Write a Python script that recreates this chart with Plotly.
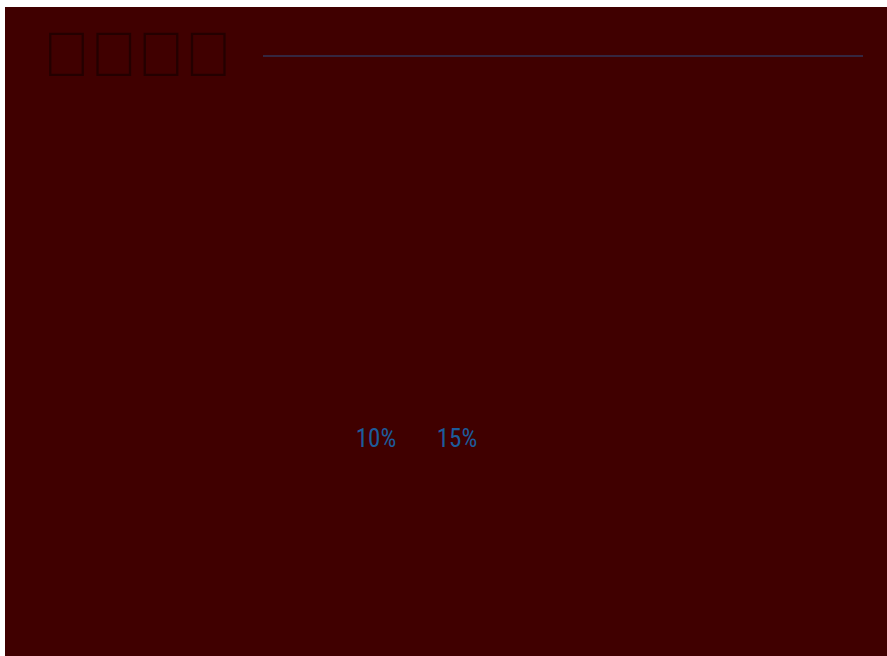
import plotly.graph_objects as go

# data
labels = ["10%", "15%"]
values = [10, 15]
levels = [0.3034, 0.3034]
title_text = "\uE000\uE001\uE002\uE003"

fig = go.Figure()
fig.add_trace(go.Scatter(
    x=values, y=levels, mode="text", text=labels,
    textfont=dict(family="Roboto Condensed", size=25, color="#1c5c9c"),
    hoverinfo="skip", showlegend=False,
))

fig.update_layout(
    width=882, height=649, autosize=False,
    paper_bgcolor="#400000",
    plot_bgcolor="#400000",
    title=dict(text=title_text, x=0.043, xanchor="left", y=0.927, yanchor="middle",
               font=dict(family="Liberation Sans", size=63, color="#240000")),
    margin=dict(l=258, r=24, t=49, b=48),
    xaxis=dict(range=[3.025, 40.06], visible=False),
    yaxis=dict(range=[0, 1], visible=False),
    shapes=[dict(type="line", xref="paper", yref="paper", x0=0, x1=1, y0=1, y1=1,
                 line=dict(color="#2a4f80", width=1))],
)

fig.write_html("out.html",
               post_script="document.body.style.margin='7px 0 0 5px';document.body.style.overflow='hidden';")
